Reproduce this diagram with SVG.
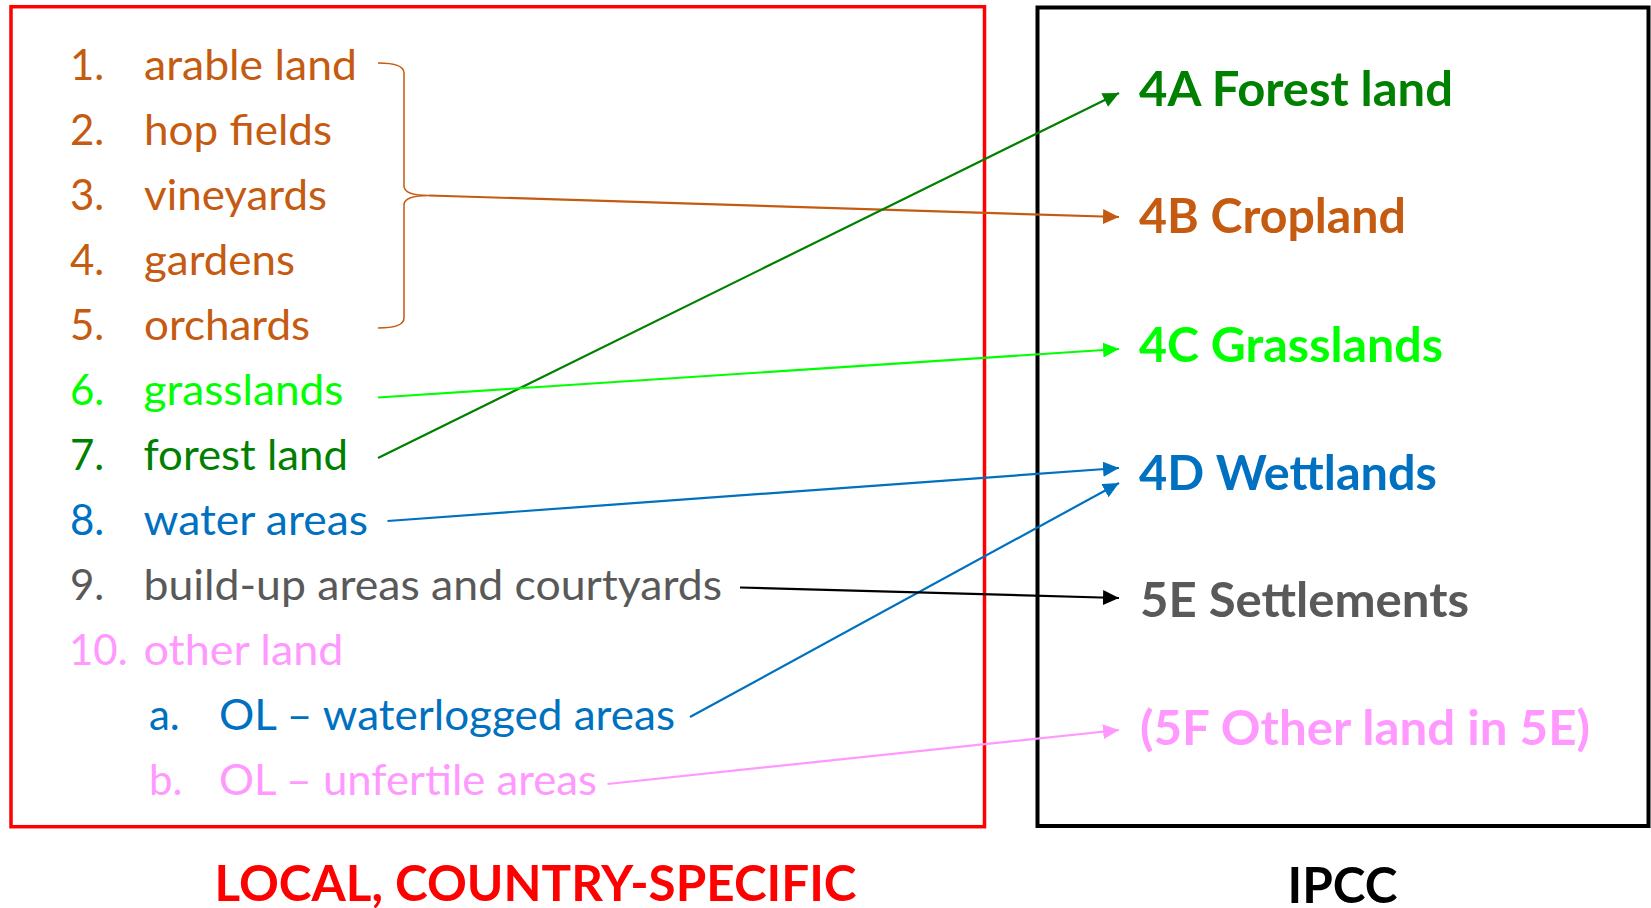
<svg xmlns="http://www.w3.org/2000/svg" width="1651" height="908" viewBox="0 0 1651 908">
<style>
  .t { font-family: Lato, "Noto Sans", "Liberation Sans", sans-serif; font-size: 42px; }
  .b { font-family: Lato, "Noto Sans", "Liberation Sans", sans-serif; font-size: 48px; font-weight: bold; }
  .h { font-family: Lato, "Noto Sans", "Liberation Sans", sans-serif; font-size: 50px; font-weight: bold; }
  .or { fill: #C55A11; } .dg { fill: #008000; } .lg { fill: #00FF00; } .bl { fill: #0070C0; } .gr { fill: #595959; } .pk { fill: #FF99FF; }
  .ln { fill: none; stroke-width: 2.2; }
</style>
<defs>
  <marker id="aOr" markerUnits="userSpaceOnUse" markerWidth="16" markerHeight="15" refX="16" refY="7.5" orient="auto"><path d="M0,0 L16,7.5 L0,15 z" fill="#C55A11"/></marker>
  <marker id="aDg" markerUnits="userSpaceOnUse" markerWidth="16" markerHeight="15" refX="16" refY="7.5" orient="auto"><path d="M0,0 L16,7.5 L0,15 z" fill="#008000"/></marker>
  <marker id="aLg" markerUnits="userSpaceOnUse" markerWidth="16" markerHeight="15" refX="16" refY="7.5" orient="auto"><path d="M0,0 L16,7.5 L0,15 z" fill="#00FF00"/></marker>
  <marker id="aBl" markerUnits="userSpaceOnUse" markerWidth="16" markerHeight="15" refX="16" refY="7.5" orient="auto"><path d="M0,0 L16,7.5 L0,15 z" fill="#0070C0"/></marker>
  <marker id="aBk" markerUnits="userSpaceOnUse" markerWidth="16" markerHeight="15" refX="16" refY="7.5" orient="auto"><path d="M0,0 L16,7.5 L0,15 z" fill="#000000"/></marker>
  <marker id="aPk" markerUnits="userSpaceOnUse" markerWidth="16" markerHeight="15" refX="16" refY="7.5" orient="auto"><path d="M0,0 L16,7.5 L0,15 z" fill="#FF99FF"/></marker>
</defs>

<g id="local-box">
  <rect x="11" y="6.7" width="973.5" height="820" fill="none" stroke="#FF0000" stroke-width="3.5"/>
  <text class="h" x="214.5" y="901" fill="#FF0000" textLength="642" lengthAdjust="spacingAndGlyphs">LOCAL, COUNTRY-SPECIFIC</text>
</g>
<g id="ipcc-box">
  <rect x="1037.5" y="7.5" width="611" height="818.5" fill="none" stroke="#000000" stroke-width="4"/>
  <text class="h" x="1287.5" y="903" fill="#000000" textLength="110" lengthAdjust="spacingAndGlyphs">IPCC</text>
</g>

<g id="local-1" class="or"><text class="t" x="70" y="80">1.</text><text class="t" x="144" y="80" textLength="213" lengthAdjust="spacingAndGlyphs">arable land</text></g>
<g id="local-2" class="or"><text class="t" x="70" y="145">2.</text><text class="t" x="144" y="145" textLength="188" lengthAdjust="spacingAndGlyphs">hop fields</text></g>
<g id="local-3" class="or"><text class="t" x="70" y="210">3.</text><text class="t" x="144" y="210" textLength="183" lengthAdjust="spacingAndGlyphs">vineyards</text></g>
<g id="local-4" class="or"><text class="t" x="70" y="275">4.</text><text class="t" x="144" y="275" textLength="151" lengthAdjust="spacingAndGlyphs">gardens</text></g>
<g id="local-5" class="or"><text class="t" x="70" y="340">5.</text><text class="t" x="144" y="340" textLength="166" lengthAdjust="spacingAndGlyphs">orchards</text></g>
<g id="local-6" class="lg"><text class="t" x="70" y="405">6.</text><text class="t" x="143.5" y="405" textLength="200" lengthAdjust="spacingAndGlyphs">grasslands</text></g>
<g id="local-7" class="dg"><text class="t" x="70" y="470">7.</text><text class="t" x="143.5" y="470" textLength="204.5" lengthAdjust="spacingAndGlyphs">forest land</text></g>
<g id="local-8" class="bl"><text class="t" x="70" y="535">8.</text><text class="t" x="143.5" y="535" textLength="224.5" lengthAdjust="spacingAndGlyphs">water areas</text></g>
<g id="local-9" class="gr"><text class="t" x="70" y="600">9.</text><text class="t" x="143.5" y="600" textLength="578.5" lengthAdjust="spacingAndGlyphs">build-up areas and courtyards</text></g>
<g id="local-10" class="pk"><text class="t" x="69" y="665">10.</text><text class="t" x="143.5" y="665" textLength="200" lengthAdjust="spacingAndGlyphs">other land</text></g>
<g id="local-10a" class="bl"><text class="t" x="149" y="730">a.</text><text class="t" x="219" y="730" textLength="456" lengthAdjust="spacingAndGlyphs">OL – waterlogged areas</text></g>
<g id="local-10b" class="pk"><text class="t" x="149" y="795">b.</text><text class="t" x="219" y="795" textLength="378" lengthAdjust="spacingAndGlyphs">OL – unfertile areas</text></g>

<g id="ipcc-4A"><text class="b dg" x="1139" y="106" textLength="314" lengthAdjust="spacingAndGlyphs">4A Forest land</text></g>
<g id="ipcc-4B"><text class="b or" x="1139" y="233" textLength="267" lengthAdjust="spacingAndGlyphs">4B Cropland</text></g>
<g id="ipcc-4C"><text class="b lg" x="1139" y="362" textLength="304" lengthAdjust="spacingAndGlyphs">4C Grasslands</text></g>
<g id="ipcc-4D"><text class="b bl" x="1139" y="490" textLength="298" lengthAdjust="spacingAndGlyphs">4D Wettlands</text></g>
<g id="ipcc-5E"><text class="b gr" x="1140" y="617" textLength="329" lengthAdjust="spacingAndGlyphs">5E Settlements</text></g>
<g id="ipcc-5F"><text class="b pk" x="1140" y="745" textLength="450" lengthAdjust="spacingAndGlyphs">(5F Other land in 5E)</text></g>

<g id="connectors">
  <path d="M378,63 Q404,63 404,73 L404,186 Q404,195.5 429,195.5 Q404,195.5 404,205 L404,318 Q404,328 378,328" fill="none" stroke="#C55A11" stroke-width="1.5"/>
  <line class="ln" x1="429" y1="195.5" x2="1119" y2="217" stroke="#C55A11" stroke-width="2.6" marker-end="url(#aOr)"/>
  <line class="ln" x1="378" y1="458" x2="1119" y2="93" stroke="#008000" marker-end="url(#aDg)"/>
  <line class="ln" x1="378" y1="397.5" x2="1119" y2="349" stroke="#00FF00" stroke-width="2.6" marker-end="url(#aLg)"/>
  <line class="ln" x1="387.5" y1="521" x2="1119" y2="468" stroke="#0070C0" marker-end="url(#aBl)"/>
  <line class="ln" x1="690" y1="717" x2="1119" y2="483" stroke="#0070C0" marker-end="url(#aBl)"/>
  <line class="ln" x1="740" y1="587.5" x2="1119" y2="598" stroke="#000000" marker-end="url(#aBk)"/>
  <line class="ln" x1="607.5" y1="784" x2="1119" y2="730" stroke="#FF99FF" marker-end="url(#aPk)"/>
</g>
</svg>
